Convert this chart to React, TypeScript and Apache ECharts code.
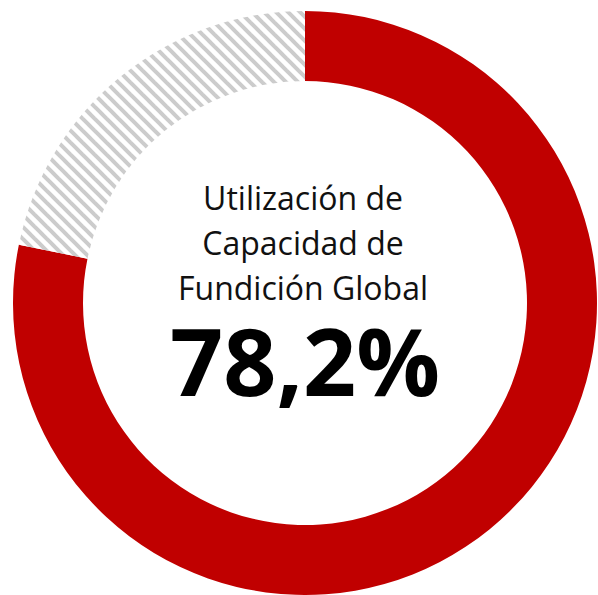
import React, { useEffect, useRef } from "react";
import * as echarts from "echarts";

const categories = ["Utilizada", "No utilizada"];
const values = [78.2, 21.8];
const titleLines = ["Utilización de", "Capacidad de", "Fundición Global"];
const valueLabel = "78,2%";

function makeHatch(): HTMLCanvasElement {
  const c = document.createElement("canvas");
  const s = 12;
  c.width = s;
  c.height = s;
  const ctx = c.getContext("2d")!;
  ctx.fillStyle = "#ffffff";
  ctx.fillRect(0, 0, s, s);
  ctx.strokeStyle = "#cccccc";
  ctx.lineWidth = 4;
  for (const off of [-s, 0, s]) {
    ctx.beginPath();
    ctx.moveTo(off - 2, -2);
    ctx.lineTo(off + s + 2, s + 2);
    ctx.stroke();
  }
  return c;
}

export default function App() {
  const ref = useRef<HTMLDivElement>(null);
  useEffect(() => {
    if (!ref.current) return;
    const chart = echarts.init(ref.current, null, { renderer: "svg" });
    const hatch = makeHatch();
    chart.setOption({
      animation: false,
      backgroundColor: "#ffffff",
      series: [
        {
          type: "pie",
          center: [305, 303],
          radius: [222, 292],
          startAngle: 90,
          clockwise: true,
          silent: true,
          label: { show: false },
          labelLine: { show: false },
          data: categories.map((name, i) => ({
            name,
            value: values[i],
            itemStyle:
              i === 0
                ? { color: "#c00000" }
                : { color: { image: hatch, repeat: "repeat" } },
          })),
        },
      ],
      graphic: [
        ...titleLines.map((line, i) => ({
          type: "text",
          x: 303,
          y: 197 + i * 45,
          style: {
            text: line,
            font: "normal 32px 'Open Sans'",
            lineHeight: 36,
            fill: "#111111",
            align: "center",
            verticalAlign: "middle",
          },
        })),
        {
          type: "text",
          x: 305,
          y: 360,
          style: {
            text: valueLabel,
            font: "bold 93px 'Open Sans'",
            lineHeight: 80,
            fill: "#000000",
            align: "center",
            verticalAlign: "middle",
          },
        },
      ],
    });
    return () => chart.dispose();
  }, []);
  return (
    <div
      ref={ref}
      style={{ position: "absolute", left: 0, top: 0, width: 598, height: 595 }}
    />
  );
}
